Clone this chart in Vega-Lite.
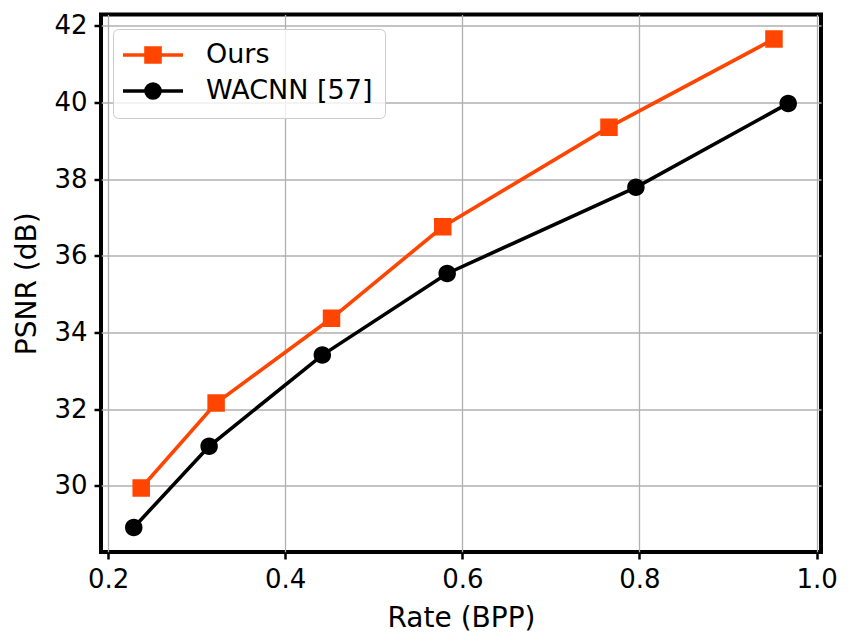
{
  "$schema": "https://vega.github.io/schema/vega-lite/v6.json",
  "width": 720,
  "height": 537.5,
  "autosize": "none",
  "padding": {"left": 101, "top": 14.5, "right": 33, "bottom": 92},
  "background": "white",
  "config": {
    "view": {"stroke": "black", "strokeWidth": 4},
    "font": "DejaVu Sans",
    "axis": {
      "domain": false,
      "grid": true,
      "gridColor": "#b0b0b0",
      "gridWidth": 1.3,
      "tickColor": "black",
      "tickSize": 7,
      "tickWidth": 2.5,
      "labelFont": "DejaVu Sans",
      "labelFontSize": 26,
      "labelColor": "black",
      "labelPadding": 7,
      "titleFont": "DejaVu Sans",
      "titleFontSize": 28,
      "titleFontWeight": "normal",
      "titleColor": "black"
    }
  },
  "data": {
    "values": [
      {"method": "Ours", "bpp": 0.2374, "psnr": 29.94},
      {"method": "Ours", "bpp": 0.322, "psnr": 32.16},
      {"method": "Ours", "bpp": 0.4523, "psnr": 34.37},
      {"method": "Ours", "bpp": 0.5779, "psnr": 36.76},
      {"method": "Ours", "bpp": 0.7656, "psnr": 39.36},
      {"method": "Ours", "bpp": 0.9519, "psnr": 41.66},
      {"method": "WACNN [57]", "bpp": 0.229, "psnr": 28.91},
      {"method": "WACNN [57]", "bpp": 0.3141, "psnr": 31.03},
      {"method": "WACNN [57]", "bpp": 0.4419, "psnr": 33.41},
      {"method": "WACNN [57]", "bpp": 0.5829, "psnr": 35.54},
      {"method": "WACNN [57]", "bpp": 0.796, "psnr": 37.79},
      {"method": "WACNN [57]", "bpp": 0.968, "psnr": 39.98}
    ]
  },
  "encoding": {
    "x": {
      "field": "bpp",
      "type": "quantitative",
      "scale": {"domain": [0.192, 1.005], "nice": false, "zero": false},
      "axis": {"title": "Rate (BPP)", "values": [0.2, 0.4, 0.6, 0.8, 1.0], "format": ".1f", "titlePadding": 12}
    },
    "y": {
      "field": "psnr",
      "type": "quantitative",
      "scale": {"domain": [28.27, 42.3], "nice": false, "zero": false},
      "axis": {"title": "PSNR (dB)", "values": [30, 32, 34, 36, 38, 40, 42], "format": "d", "titlePadding": 12}
    },
    "color": {
      "field": "method",
      "type": "nominal",
      "scale": {"domain": ["Ours", "WACNN [57]"], "range": ["#FF4500", "#000000"]},
      "legend": {
        "title": null,
        "orient": "none",
        "legendX": 12,
        "legendY": 14.5,
        "fillColor": "rgba(255,255,255,0.8)",
        "strokeColor": "#cccccc",
        "cornerRadius": 5,
        "padding": 12,
        "symbolSize": 576,
        "symbolOffset": 14,
        "labelOffset": 39,
        "labelFontSize": 27,
        "labelFont": "DejaVu Sans",
        "labelColor": "black",
        "labelLimit": 400,
        "rowPadding": 6,
        "symbolStrokeWidth": 3.6,
        "symbolOpacity": 1
      }
    }
  },
  "layer": [
    {"mark": {"type": "line", "strokeWidth": 3.6}},
    {
      "mark": {"type": "point", "filled": true, "opacity": 1, "size": 900},
      "encoding": {
        "shape": {
          "field": "method",
          "type": "nominal",
          "scale": {
            "domain": ["Ours", "WACNN [57]"],
            "range": [
              "M-2.5,0H2.5M-0.583,-0.583H0.583V0.583H-0.583Z",
              "M-2.5,0H2.5M0.583,0A0.583,0.583 0 1,1 -0.583,0A0.583,0.583 0 1,1 0.583,0Z"
            ]
          },
          "legend": null
        }
      }
    }
  ]
}
